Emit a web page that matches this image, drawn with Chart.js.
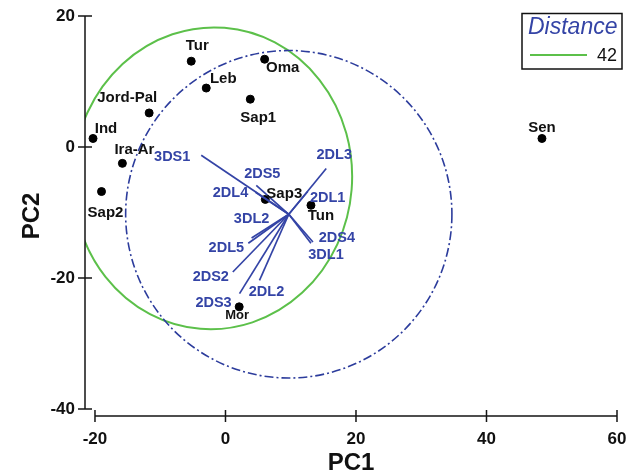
<!DOCTYPE html>
<html><head><meta charset="utf-8">
<script src="https://cdn.jsdelivr.net/npm/chart.js@4"></script>
<style>html,body{margin:0;padding:0;background:#fff}#wrap{width:629px;height:475px}</style>
</head><body><div id="wrap"><canvas id="c" width="629" height="475"></canvas></div>
<script>
// ---------- data ----------
const popNames = ['Ind','Jord-Pal','Ira-Ar','Sap2','Tur','Oma','Leb','Sap1','Sap3','Tun','Mor','Sen'];
const popX = [-20.3, -11.7, -15.8, -19.0, -5.25, 6.0, -2.95, 3.8, 6.1, 13.1, 2.1, 48.5];
const popY = [1.3, 5.2, -2.5, -6.8, 13.1, 13.4, 9.0, 7.3, -8.0, -8.9, -24.4, 1.3];

const vecNames = ['3DS1','2DS5','2DL4','2DL3','2DL1','2DS4','3DL1','3DL2','2DL5','2DS2','2DS3','2DL2'];
const vecX = [-3.72, 4.72, 4.6, 15.44, 12.6, 13.4, 13.1, 4.0, 3.5, 1.12, 2.15, 5.21];
const vecY = [-1.27, -5.85, -6.9, -3.29, -6.8, -14.5, -14.7, -13.9, -14.7, -19.08, -22.38, -20.35];
const vecOrigin = [9.7, -10.27];

const xTicks = [-20, 0, 20, 40, 60];
const yTicks = [-40, -20, 0, 20];

const greenEllipse = [-2.0, -4.78, 21.4, 23.05];  // cx, cy, rx, ry (data units)
const blueCircleRadius = 25;                        // around vecOrigin
const legendTitle = 'Distance';
const legendLabel = '42';

// ---------- styles / label placement (pixels) ----------
const FONT = "'Liberation Sans', Arial, Helvetica, sans-serif";
const BLUE = '#3444a6';
const GREEN = '#5cc04a';
const popLabelOffsets = {
  'Ind':[13,-10],'Jord-Pal':[-22,-15],'Ira-Ar':[12,-14],'Sap2':[4,21],'Tur':[6,-15],'Oma':[18,9],
  'Leb':[17,-9],'Sap1':[8,19],'Sap3':[19,-6],'Tun':[10,11],'Mor':[-2,9],'Sen':[0,-11]
};
const vecLabelOffsets = {
  '3DS1':[-29,2],'2DS5':[6,-11],'2DL4':[-25,1],'2DL3':[8,-14],'2DL1':[20,6],'2DS4':[24,-4],
  '3DL1':[15,12],'3DL2':[0,-19],'2DL5':[-22,5],'2DS2':[-22,5],'2DS3':[-26,9],'2DL2':[7,12]
};

const datasets = [];
vecNames.forEach((n, i) => {
  datasets.push({
    label: n,
    data: [{x: vecOrigin[0], y: vecOrigin[1]}, {x: vecX[i], y: vecY[i]}],
    showLine: true, borderColor: BLUE, borderWidth: 1.7, pointRadius: 0, fill: false
  });
});
datasets.push({
  label: 'populations',
  data: popX.map((x, i) => ({x, y: popY[i]})),
  backgroundColor: '#000', borderColor: '#000', pointRadius: 4, pointHoverRadius: 4
});

const shapesPlugin = {
  id: 'shapes',
  beforeDatasetsDraw(chart) {
    const {ctx, chartArea: a, scales: {x, y}} = chart;
    ctx.save();
    ctx.beginPath(); ctx.rect(a.left, a.top - 20, a.right - a.left + 20, a.bottom - a.top + 20); ctx.clip();
    const [cx, cy, rx, ry] = greenEllipse;
    const pcx = x.getPixelForValue(cx), pcy = y.getPixelForValue(cy);
    const prx = x.getPixelForValue(cx + rx) - pcx, pry = pcy - y.getPixelForValue(cy + ry);
    ctx.beginPath(); ctx.ellipse(pcx, pcy, prx, pry, 0.08, 0, Math.PI * 2);
    ctx.strokeStyle = GREEN; ctx.lineWidth = 2; ctx.stroke();
    const ocx = x.getPixelForValue(vecOrigin[0]), ocy = y.getPixelForValue(vecOrigin[1]);
    const brx = x.getPixelForValue(vecOrigin[0] + blueCircleRadius) - ocx;
    const bry = ocy - y.getPixelForValue(vecOrigin[1] + blueCircleRadius);
    ctx.beginPath(); ctx.ellipse(ocx, ocy, brx, bry, 0, 0, Math.PI * 2);
    ctx.setLineDash([9, 3, 2, 3]);
    ctx.strokeStyle = '#2c3c9c'; ctx.lineWidth = 1.6; ctx.stroke();
    ctx.restore();
  },
  afterDatasetsDraw(chart) {
    const {ctx, scales: {x, y}} = chart;
    ctx.save();
    ctx.textAlign = 'center'; ctx.textBaseline = 'middle';
    popNames.forEach((n, i) => {
      const o = popLabelOffsets[n] || [0, -12];
      ctx.font = (n === 'Mor' ? 'bold 13px ' : 'bold 15px ') + FONT;
      ctx.fillStyle = '#111';
      ctx.fillText(n, x.getPixelForValue(popX[i]) + o[0], y.getPixelForValue(popY[i]) + o[1]);
    });
    ctx.font = 'bold 14.5px ' + FONT; ctx.fillStyle = BLUE;
    vecNames.forEach((n, i) => {
      const o = vecLabelOffsets[n] || [0, 0];
      ctx.fillText(n, x.getPixelForValue(vecX[i]) + o[0], y.getPixelForValue(vecY[i]) + o[1]);
    });
    ctx.restore();
  },
  afterDraw(chart) {
    const {ctx, chartArea: a, scales: {x, y}} = chart;
    ctx.save();
    ctx.strokeStyle = '#151515'; ctx.lineWidth = 1.5;
    ctx.beginPath();
    const ax = a.left;
    ctx.moveTo(ax, y.getPixelForValue(yTicks[yTicks.length - 1]));
    ctx.lineTo(ax, y.getPixelForValue(yTicks[0]));
    yTicks.forEach(v => { const p = y.getPixelForValue(v); ctx.moveTo(ax - 7, p); ctx.lineTo(ax + 7, p); });
    const ay = a.bottom;
    ctx.moveTo(x.getPixelForValue(xTicks[0]), ay);
    ctx.lineTo(x.getPixelForValue(xTicks[xTicks.length - 1]), ay);
    xTicks.forEach(v => { const p = x.getPixelForValue(v); ctx.moveTo(p, ay - 6); ctx.lineTo(p, ay + 6); });
    ctx.stroke();
    ctx.lineWidth = 1.5; ctx.strokeStyle = '#111';
    ctx.strokeRect(522, 13.5, 100, 55.5);
    ctx.font = 'italic 23px ' + FONT; ctx.fillStyle = BLUE;
    ctx.textAlign = 'left'; ctx.textBaseline = 'middle';
    ctx.fillText(legendTitle, 528, 28);
    ctx.beginPath(); ctx.moveTo(530, 55); ctx.lineTo(587, 55);
    ctx.strokeStyle = GREEN; ctx.lineWidth = 2; ctx.stroke();
    ctx.font = '18px ' + FONT; ctx.fillStyle = '#111';
    ctx.fillText(legendLabel, 597, 56);
    ctx.restore();
  }
};

new Chart(document.getElementById('c'), {
  type: 'scatter',
  data: { datasets },
  options: {
    responsive: false, animation: false, devicePixelRatio: 1,
    layout: { padding: 0 },
    plugins: { legend: { display: false }, tooltip: { enabled: false } },
    scales: {
      x: {
        type: 'linear', min: -21.53, max: 60,
        afterBuildTicks: s => { s.ticks = xTicks.map(v => ({value: v})); },
        afterFit: s => { s.height = 59; s.paddingLeft = 0; s.paddingRight = 12; },
        grid: { display: false, drawTicks: false }, border: { display: false },
        ticks: { color: '#111', padding: 13, font: { family: FONT, size: 17, weight: 'bold' }, maxRotation: 0, autoSkip: false },
        title: { display: true, text: 'PC1', color: '#111', font: { family: FONT, size: 24, weight: 'bold', lineHeight: 1 }, padding: { top: 0, bottom: 0 } }
      },
      y: {
        type: 'linear', min: -41.07, max: 20,
        afterBuildTicks: s => { s.ticks = yTicks.map(v => ({value: v})); },
        afterFit: s => { s.width = 85; s.paddingTop = 16; s.paddingBottom = 0; },
        grid: { display: false, drawTicks: false }, border: { display: false },
        ticks: { color: '#111', padding: 10, font: { family: FONT, size: 17, weight: 'bold' }, autoSkip: false },
        title: { display: true, text: 'PC2', color: '#111', font: { family: FONT, size: 24, weight: 'bold', lineHeight: 1 }, padding: { top: 20, bottom: 0 } }
      }
    }
  },
  plugins: [shapesPlugin]
});
</script>
</body></html>
